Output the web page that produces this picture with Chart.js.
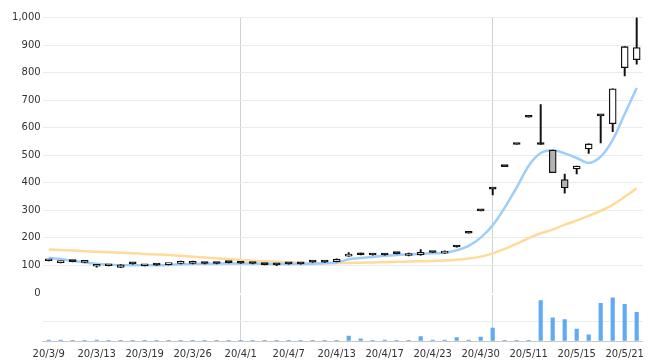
<!DOCTYPE html>
<html>
<head>
<meta charset="utf-8">
<script src="https://cdn.jsdelivr.net/npm/chart.js@4.4.1/dist/chart.umd.min.js"></script>
<style>
html, body { margin: 0; padding: 0; background: #fff; overflow: hidden; }
#wrap { position: relative; width: 651px; height: 363px; overflow: hidden; }
canvas { position: absolute; left: 0; top: 0; }
</style>
</head>
<body>
<div id="wrap">
  <canvas id="price" width="651" height="363"></canvas>
  <canvas id="volume" width="651" height="367"></canvas>
</div>
<script>
const dates = [
  '20/3/9', '20/3/10', '20/3/11', '20/3/12', '20/3/13', '20/3/16', '20/3/17', '20/3/18', '20/3/19', '20/3/23',
  '20/3/24', '20/3/25', '20/3/26', '20/3/27', '20/3/30', '20/3/31', '20/4/1', '20/4/2', '20/4/3', '20/4/6',
  '20/4/7', '20/4/8', '20/4/9', '20/4/10', '20/4/13', '20/4/14', '20/4/15', '20/4/16', '20/4/17', '20/4/20',
  '20/4/21', '20/4/22', '20/4/23', '20/4/24', '20/4/27', '20/4/28', '20/4/30', '20/5/1', '20/5/7', '20/5/8',
  '20/5/11', '20/5/12', '20/5/13', '20/5/14', '20/5/15', '20/5/18', '20/5/19', '20/5/20', '20/5/21', '20/5/22'
];

const opens = [
  119, 110, 114, 113, 97, 100, 93, 106, 99, 101,
  103, 107, 115, 107, 107, 110, 108, 107, 103, 102,
  106, 106, 112, 112, 114, 134, 139, 138, 138, 143,
  136, 138, 147, 145, 167, 217, 298, 377, 459, 539,
  638, 539, 519, 412, 450, 523, 643, 614, 818, 847
];
const highs = [
  121, 117, 115, 114, 104, 101, 103, 107, 103, 102,
  105, 116, 116, 108, 108, 111, 109, 108, 104, 103,
  107, 107, 113, 113, 124, 147, 145, 139, 142, 144,
  145, 158, 148, 153, 171, 217, 298, 377, 459, 539,
  638, 684, 519, 432, 461, 541, 643, 741, 894, 1000
];
const lows = [
  116, 109, 113, 110, 94, 98, 92, 105, 98, 100,
  102, 106, 106, 106, 106, 109, 107, 106, 102, 99,
  105, 105, 111, 111, 113, 133, 138, 137, 137, 142,
  135, 137, 146, 144, 166, 217, 298, 356, 459, 539,
  638, 539, 437, 362, 432, 507, 545, 586, 788, 831
];
const closes = [
  117, 116, 114, 111, 103, 99, 102, 106, 102, 101,
  104, 115, 107, 107, 107, 110, 108, 107, 103, 102,
  106, 106, 112, 112, 123, 141, 139, 138, 138, 143,
  142, 148, 147, 152, 167, 217, 298, 377, 459, 539,
  638, 539, 437, 381, 461, 541, 643, 741, 894, 891
];

// moving averages as drawn
const maShort = [
  128, 123, 117, 111, 106, 103, 101, 101, 101, 101,
  102, 104, 106, 106, 107, 107, 107, 107, 106, 105,
  105, 105, 106, 108, 111, 122, 127, 131, 135, 138,
  140, 142, 144, 146, 155, 171, 201, 246, 310, 383,
  462, 508, 518, 507, 490, 472, 495, 556, 650, 744
];
const maLong = [
  158, 156, 154, 152, 150, 148, 146, 144, 142, 140,
  138, 135, 132, 129, 126, 123, 120, 117, 115, 113,
  111, 109, 108, 108, 108, 109, 110, 111, 112, 113,
  114, 115, 116, 118, 121, 125, 132, 144, 160, 179,
  199, 217, 230, 248, 263, 280, 298, 320, 349, 380
];

const volumes = [
  0.05, 0.05, 0.03, 0.03, 0.05, 0.03, 0.03, 0.03, 0.02, 0.02,
  0.03, 0.02, 0.02, 0.02, 0.02, 0.02, 0.02, 0.02, 0.02, 0.02,
  0.02, 0.02, 0.02, 0.02, 0.04, 0.25, 0.11, 0.04, 0.05, 0.04,
  0.02, 0.22, 0.05, 0.05, 0.17, 0.05, 0.2, 0.66, 0.02, 0.02,
  0.02, 2.07, 1.19, 1.09, 0.61, 0.32, 1.92, 2.21, 1.87, 1.47
];

const priceTicks = [0, 1000, 100];

const FONT = { family: 'DejaVu Sans', size: 10 };
const AXIS_W = 42.7;

// grey vertical line on the first trading day of each month
function monthLine(ctx) {
  const i = ctx.index;
  if (i > 0) {
    const m = dates[i].split('/')[1];
    const prev = dates[i - 1].split('/')[1];
    if (m !== prev) return '#c9d3dd';
  }
  return 'rgba(0,0,0,0)';
}

function bodyColor(i) {
  if (closes[i] === opens[i]) return '#111';
  return closes[i] > opens[i] ? '#ffffff' : '#b3b3b3';
}

const priceChart = new Chart(document.getElementById('price'), {
  type: 'bar',
  data: {
    labels: dates,
    datasets: [
      {
        type: 'line',
        data: maShort,
        borderColor: '#9fcdfb',
        borderWidth: 2.5,
        pointRadius: 0,
        tension: 0.3,
        order: 4
      },
      {
        type: 'line',
        data: maLong,
        borderColor: '#fedb98',
        borderWidth: 2.5,
        pointRadius: 0,
        tension: 0.3,
        order: 5
      },
      {
        data: dates.map((d, i) => [lows[i], highs[i]]),
        backgroundColor: '#111',
        barThickness: 1.3,
        grouped: false,
        order: 2
      },
      {
        data: dates.map((d, i) => [opens[i], closes[i]]),
        backgroundColor: dates.map((d, i) => bodyColor(i)),
        borderColor: '#111',
        borderWidth: 1.3,
        borderSkipped: false,
        barThickness: 7,
        minBarLength: 2,
        grouped: false,
        order: 1
      }
    ]
  },
  options: {
    responsive: false,
    animation: false,
    layout: { padding: { top: 17.5, bottom: 70, right: 8.3, left: 0 } },
    plugins: {
      legend: { display: false },
      tooltip: { enabled: false }
    },
    scales: {
      x: {
        ticks: { display: false, autoSkip: false },
        grid: { offset: false, drawTicks: false, color: monthLine },
        border: { display: false }
      },
      y: {
        min: priceTicks[0],
        max: priceTicks[1],
        ticks: { stepSize: priceTicks[2], padding: 2, color: '#333', font: FONT },
        grid: {
          drawTicks: false,
          color: (ctx) => ctx.tick && ctx.tick.value === 0 ? 'rgba(0,0,0,0)' : '#ebebeb'
        },
        border: { display: false },
        afterFit: (scale) => { scale.width = AXIS_W; }
      }
    }
  }
});

const volumeChart = new Chart(document.getElementById('volume'), {
  type: 'bar',
  data: {
    labels: dates,
    datasets: [{
      data: volumes,
      backgroundColor: '#5eaaf5',
      barThickness: 3.5
    }]
  },
  options: {
    responsive: false,
    animation: false,
    layout: { padding: { top: 295, bottom: 0, right: 8.3, left: 0 } },
    plugins: {
      legend: { display: false },
      tooltip: { enabled: false }
    },
    scales: {
      x: {
        ticks: {
          autoSkip: false,
          maxRotation: 0,
          padding: 7,
          color: '#333',
          font: FONT,
          callback: (v, i) => i % 4 === 0 ? dates[i] : ''
        },
        grid: { offset: false, drawTicks: false, color: monthLine },
        border: { color: '#c8c8c8' }
      },
      y: {
        min: 0,
        max: 2.35,
        ticks: { display: false, stepSize: 1 },
        grid: {
          drawTicks: false,
          color: (ctx) => ctx.tick && ctx.tick.value > 0 && Number.isInteger(ctx.tick.value) ? '#ebebeb' : 'rgba(0,0,0,0)'
        },
        border: { display: false },
        afterFit: (scale) => { scale.width = AXIS_W; }
      }
    }
  }
});
</script>
</body>
</html>
